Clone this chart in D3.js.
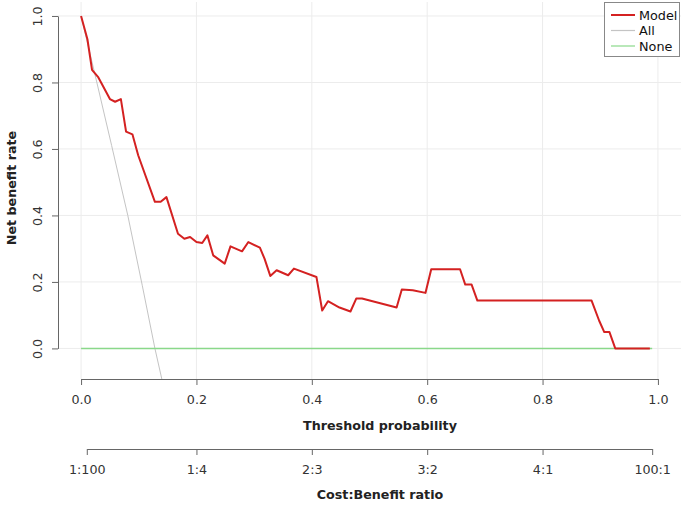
<!DOCTYPE html>
<html>
<head>
<meta charset="utf-8">
<script src="https://cdn.jsdelivr.net/npm/d3@7"></script>
<style>
  body { margin: 0; background: #fff; }
  text { font-family: "DejaVu Sans", Verdana, sans-serif; }
</style>
</head>
<body>
<script>
// decision curve
const modelX = [0.000, 0.011, 0.019, 0.030, 0.050, 0.059, 0.069, 0.078, 0.089, 0.099,
  0.128, 0.138, 0.148, 0.168, 0.179, 0.189, 0.200, 0.210, 0.219, 0.229,
  0.249, 0.259, 0.279, 0.290, 0.310, 0.318, 0.328, 0.339, 0.359, 0.369,
  0.408, 0.418, 0.428, 0.448, 0.467, 0.477, 0.487, 0.547, 0.556, 0.575,
  0.597, 0.607, 0.657, 0.666, 0.677, 0.687, 0.885, 0.898, 0.907, 0.916,
  0.926, 0.986]
const modelY = [1.000, 0.930, 0.838, 0.815, 0.750, 0.742, 0.750, 0.652, 0.644, 0.581,
  0.441, 0.441, 0.455, 0.345, 0.330, 0.335, 0.320, 0.317, 0.340, 0.280,
  0.255, 0.307, 0.292, 0.320, 0.303, 0.270, 0.218, 0.235, 0.220, 0.240,
  0.215, 0.114, 0.142, 0.123, 0.111, 0.150, 0.150, 0.123, 0.177, 0.175,
  0.167, 0.238, 0.238, 0.192, 0.192, 0.144, 0.144, 0.084, 0.049, 0.049,
  0.000, 0.000]
const allX = [0.000, 0.026, 0.053, 0.081, 0.106, 0.128, 0.141]
const allY = [1.00, 0.81, 0.61, 0.40, 0.19, 0.00, -0.10]
const noneX = [0.0, 0.99]
const noneY = [0.0, 0.0]

const xTicks = [0, 0.2, 0.4, 0.6, 0.8, 1.0]
const yTicks = [0, 0.2, 0.4, 0.6, 0.8, 1.0]
const cbTicks = [0.0099, 0.2, 0.4, 0.6, 0.8, 0.99]
const cbLabels = ['1:100', '1:4', '2:3', '3:2', '4:1', '100:1']

const legendNames = ['Model', 'All', 'None']
const colors = {Model: '#d42121', All: '#c4c4c4', None: '#8ad88a'}

const width = 681
const height = 506
const plot = {left: 58, right: 681, top: 2, bottom: 379}

const svg = d3.select('body').append('svg')
  .attr('width', width)
  .attr('height', height)

const x = d3.scaleLinear()
  .domain([-0.04, 1.04])
  .range([plot.left, plot.right])

const y = d3.scaleLinear()
  .domain([-0.092, 1.042])
  .range([plot.bottom, plot.top])

svg.append('defs').append('clipPath')
  .attr('id', 'clip')
  .append('rect')
  .attr('x', plot.left)
  .attr('y', plot.top)
  .attr('width', plot.right - plot.left)
  .attr('height', plot.bottom - plot.top)

// grid
const grid = svg.append('g')
grid.selectAll('.vg')
  .data(xTicks)
  .enter()
  .append('line')
  .attr('x1', d => x(d)).attr('x2', d => x(d))
  .attr('y1', plot.top).attr('y2', plot.bottom)
  .attr('stroke', '#ececec')
grid.selectAll('.hg')
  .data(yTicks)
  .enter()
  .append('line')
  .attr('x1', plot.left).attr('x2', plot.right)
  .attr('y1', d => y(d)).attr('y2', d => y(d))
  .attr('stroke', '#ececec')

const line = d3.line()
  .x(d => x(d[0]))
  .y(d => y(d[1]))

const lines = svg.append('g').attr('clip-path', 'url(#clip)')

lines.append('path')
  .datum(d3.zip(allX, allY))
  .attr('d', line)
  .attr('fill', 'none')
  .attr('stroke', colors.All)
  .attr('stroke-width', 1)

lines.append('path')
  .datum(d3.zip(noneX, noneY))
  .attr('d', line)
  .attr('fill', 'none')
  .attr('stroke', colors.None)
  .attr('stroke-width', 1.5)

lines.append('path')
  .datum(d3.zip(modelX, modelY))
  .attr('d', line)
  .attr('fill', 'none')
  .attr('stroke', colors.Model)
  .attr('stroke-width', 2)
  .attr('stroke-linejoin', 'round')

function styleAxis(g) {
  g.selectAll('path, line').attr('stroke', '#666')
  g.selectAll('text')
    .attr('fill', '#333')
    .attr('font-size', '12.7px')
    .style('font-family', '"DejaVu Sans", Verdana, sans-serif')
}

// x axis (threshold)
const xAxisScale = d3.scaleLinear().domain([0, 1]).range([x(0), x(1)])
svg.append('g')
  .attr('transform', `translate(0, ${plot.bottom})`)
  .call(d3.axisBottom(xAxisScale)
    .tickValues(xTicks)
    .tickFormat(d3.format('.1f'))
    .tickSize(6)
    .tickSizeOuter(0)
    .tickPadding(10))
  .call(styleAxis)

// y axis
const yAxisScale = d3.scaleLinear().domain([0, 1]).range([y(0), y(1)])
svg.append('g')
  .attr('transform', `translate(${plot.left}, 0)`)
  .call(d3.axisLeft(yAxisScale)
    .tickValues(yTicks)
    .tickFormat(d3.format('.1f'))
    .tickSize(6)
    .tickSizeOuter(0))
  .call(styleAxis)
  .call(g => g.selectAll('.tick text')
    .attr('transform', 'rotate(-90)')
    .attr('x', 0)
    .attr('y', -16)
    .attr('dy', 0)
    .attr('text-anchor', 'middle'))

// cost:benefit axis
const cbScale = d3.scaleLinear()
  .domain([cbTicks[0], cbTicks[cbTicks.length - 1]])
  .range([x(cbTicks[0]), x(cbTicks[cbTicks.length - 1])])
svg.append('g')
  .attr('transform', 'translate(0, 449)')
  .call(d3.axisBottom(cbScale)
    .tickValues(cbTicks)
    .tickFormat((d, i) => cbLabels[i])
    .tickSize(6)
    .tickSizeOuter(0)
    .tickPadding(10))
  .call(styleAxis)

// titles
svg.append('text')
  .attr('x', 380)
  .attr('y', 430)
  .attr('text-anchor', 'middle')
  .attr('font-weight', 'bold')
  .attr('font-size', '12.7px')
  .attr('fill', '#222')
  .text('Threshold probability')

svg.append('text')
  .attr('x', 380)
  .attr('y', 499)
  .attr('text-anchor', 'middle')
  .attr('font-weight', 'bold')
  .attr('font-size', '12.7px')
  .attr('fill', '#222')
  .text('Cost:Benefit ratio')

svg.append('text')
  .attr('transform', 'translate(16, 188) rotate(-90)')
  .attr('text-anchor', 'middle')
  .attr('font-weight', 'bold')
  .attr('font-size', '12.7px')
  .attr('fill', '#222')
  .text('Net benefit rate')

// legend
const legend = svg.append('g').attr('transform', 'translate(604.5, 2.5)')
legend.append('rect')
  .attr('width', 75)
  .attr('height', 54)
  .attr('fill', '#fff')
  .attr('stroke', '#888')

const rows = legend.selectAll('.row')
  .data(legendNames)
  .enter()
  .append('g')
  .attr('transform', (d, i) => `translate(0, ${12.5 + i * 15.5})`)

rows.append('line')
  .attr('x1', 6.5).attr('x2', 30.5)
  .attr('y1', 0).attr('y2', 0)
  .attr('stroke', d => colors[d])
  .attr('stroke-width', d => d === 'Model' ? 2 : 1.2)

rows.append('text')
  .attr('x', 34.5)
  .attr('y', 0)
  .attr('dy', '0.36em')
  .attr('font-size', '12.8px')
  .attr('fill', '#111')
  .text(d => d)
</script>
</body>
</html>
